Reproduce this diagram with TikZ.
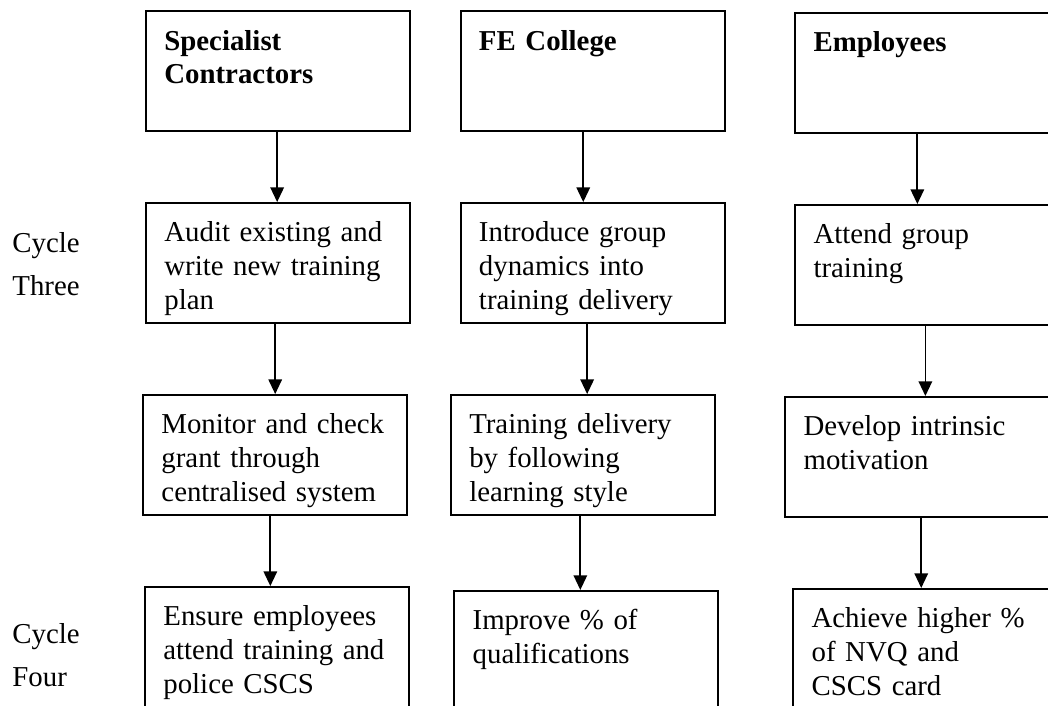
\documentclass[tikz,border=0pt]{standalone}
\usepackage{fontspec}
\setmainfont{Liberation Serif}
\usetikzlibrary{arrows.meta}
\tikzset{
>={Triangle[width=5.5pt,length=6pt]}, % solid heads on the flow lines
node distance=78.9pt, % distance between two rows, centre to centre
box/.style={draw, line width=0.8pt, minimum width=108.5pt, minimum height=49.3pt,
  text width=93.5pt, align=left, inner xsep=7.5pt, inner ysep=7pt,
  text height=9pt, text depth=26.3pt, font=\fontsize{11.85}{13.8}\selectfont}, % text sits top left
flow/.style={->, line width=0.7pt},
cyclelabel/.style={anchor=north west, inner sep=0pt, align=left, font=\fontsize{11.85}{17.8}\selectfont},
}
\begin{document}
\begin{tikzpicture}
\useasboundingbox (0,0) rectangle (430.7pt,-289.8pt);
\clip (0,0) rectangle (430.7pt,-289.8pt);
% top row
\node[box] (sc1) at (114.3pt,-29.2pt) {\textbf{Specialist}\\\textbf{Contractors}};
\node[box, node distance=129.3pt, right of=sc1] (fe1) {\textbf{FE College}};
\node[box, node distance=137.5pt, right of=fe1, yshift=-0.8pt] (emp1) {\textbf{Employees}};
% cycle three
\node[box, below of=sc1] (sc2) {Audit existing and\\write new training\\plan};
\node[box, below of=fe1] (fe2) {Introduce group\\dynamics into\\training delivery};
\node[box, below of=emp1] (emp2) {Attend group\\training};
\node[box, below of=sc2, xshift=-1.2pt] (sc3) {Monitor and check\\grant through\\centralised system};
\node[box, below of=fe2, xshift=-4pt] (fe3) {Training delivery\\by following\\learning style};
\node[box, below of=emp2, xshift=-4.1pt] (emp3) {Develop intrinsic\\motivation};
% cycle four
\node[box, below of=sc3, xshift=0.8pt] (sc4) {Ensure employees\\attend training and\\police CSCS};
\node[box, below of=fe3, xshift=1.4pt, yshift=-1.6pt] (fe4) {Improve \% of\\qualifications};
\node[box, below of=emp3, xshift=3.3pt] (emp4) {Achieve higher \%\\of NVQ and\\CSCS card};
\node[cyclelabel] (cyc3) at (4.9pt,-95.4pt) {Cycle\\Three};
\node[cyclelabel] (cyc4) at (4.9pt,-256pt) {Cycle\\Four};
% flow lines
\draw[flow] ([xshift=-0.4pt]sc1.south) -- ([xshift=-0.4pt]sc1.south |- sc2.north);
\draw[flow] ([xshift=-3.9pt]fe1.south) -- ([xshift=-3.9pt]fe1.south |- fe2.north);
\draw[flow] ([xshift=-4.1pt]emp1.south) -- ([xshift=-4.1pt]emp1.south |- emp2.north);
\draw[flow] ([xshift=-1.2pt]sc2.south) -- ([xshift=-1.2pt]sc2.south |- sc3.north);
\draw[flow] ([xshift=-2.3pt]fe2.south) -- ([xshift=-2.3pt]fe2.south |- fe3.north);
\draw[flow] ([xshift=-0.8pt]emp2.south) -- ([xshift=-0.8pt]emp2.south |- emp3.north);
\draw[flow] ([xshift=-2pt]sc3.south) -- ([xshift=-2pt]sc3.south |- sc4.north);
\draw[flow] ([xshift=-1.1pt]fe3.south) -- ([xshift=-1.1pt]fe3.south |- fe4.north);
\draw[flow] ([xshift=1.6pt]emp3.south) -- ([xshift=1.6pt]emp3.south |- emp4.north);
\end{tikzpicture}
\end{document}
